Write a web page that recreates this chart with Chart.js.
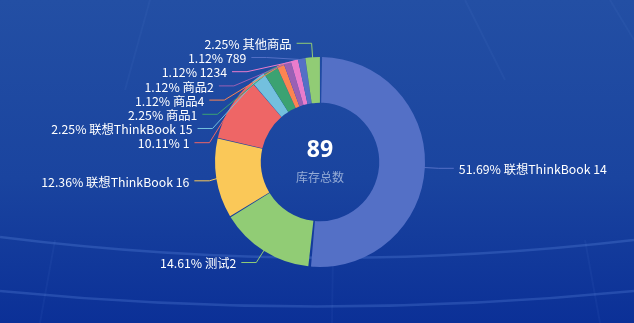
<!DOCTYPE html>
<html>
<head>
<meta charset="utf-8">
<script src="https://cdn.jsdelivr.net/npm/chart.js@4.4.1/dist/chart.umd.min.js"></script>
<style>
    html, body { margin: 0; padding: 0; background: #1a459f; }
    #wrap { position: relative; width: 634px; height: 323px; }
</style>
</head>
<body>
<div id="wrap"><canvas id="stockPie"></canvas></div>
<script>
// Stock per product, clockwise from 12 o'clock
const categories = ['联想ThinkBook 14', '测试2', '联想ThinkBook 16', '1', '联想ThinkBook 15', '商品1', '商品4', '商品2', '1234', '789', '其他商品'];
const stockCounts = [46, 13, 11, 9, 2, 2, 1, 1, 1, 1, 2];
const sliceColors = ['#5470c6', '#91cc75', '#fac858', '#ee6666', '#73c0de', '#3ba272', '#fc8452', '#9a60b4', '#ea7ccc', '#5470c6', '#91cc75'];
const centerCaption = '库存总数';

const LABEL_FONT = '12.3px "Noto Sans CJK SC", "Noto Sans", sans-serif';
const LEN1 = 15;      // first part of the label line
const LEN2 = 15;      // horizontal part
const TEXT_GAP = 5;
const LINE_H = 14.2;
const BEND_RX = 8;    // horizontal reach of re-aligned bends

const total = stockCounts.reduce((a, b) => a + b, 0);

// background: gradient plus the faint "dome" lines
const backdrop = {
    id: 'backdrop',
    beforeDraw(chart) {
        const { ctx, width, height } = chart;
        ctx.save();
        const g = ctx.createLinearGradient(0, 0, 0, height);
        g.addColorStop(0, '#234fa4');
        g.addColorStop(0.55, '#1a449f');
        g.addColorStop(1, '#0b3097');
        ctx.fillStyle = g;
        ctx.fillRect(0, 0, width, height);

        ctx.strokeStyle = 'rgba(130, 175, 255, 0.2)';
        ctx.lineWidth = 2.5;
        ctx.beginPath();
        ctx.moveTo(0, 237);
        ctx.quadraticCurveTo(width / 2, 277, width, 240);
        ctx.stroke();
        ctx.beginPath();
        ctx.moveTo(0, 291);
        ctx.quadraticCurveTo(width / 2, 322, width, 291);
        ctx.stroke();

        ctx.strokeStyle = 'rgba(130, 175, 255, 0.05)';
        ctx.lineWidth = 2;
        [[150, 0, 125, 90], [465, 0, 505, 80], [40, 323, 55, 240], [332, 323, 333, 250], [600, 323, 585, 240], [610, 0, 634, 40]].forEach(l => {
            ctx.beginPath();
            ctx.moveTo(l[0], l[1]);
            ctx.lineTo(l[2], l[3]);
            ctx.stroke();
        });
        ctx.restore();
    }
};

// Outside labels with leader lines, stacked like echarts does on the left
const outerLabels = {
    id: 'outerLabels',
    afterDatasetsDraw(chart) {
        const { ctx } = chart;
        const arcs = chart.getDatasetMeta(0).data;
        const items = arcs.map((arc, i) => {
            const p = arc.getProps(['x', 'y', 'startAngle', 'endAngle', 'outerRadius', 'innerRadius'], true);
            const mid = (p.startAngle + p.endAngle) / 2;
            const cos = Math.cos(mid), sin = Math.sin(mid);
            const r = p.outerRadius;
            return {
                i, cx: p.x, cy: p.y, r, cos,
                ex: p.x + r * cos, ey: p.y + r * sin,
                bx: p.x + (r + LEN1) * cos, by: p.y + (r + LEN1) * sin,
                dir: cos >= 0 ? 1 : -1
            };
        });

        [1, -1].forEach(dir => {
            const side = items.filter(it => it.dir === dir).sort((a, b) => a.by - b.by);
            if (side.length < 2) return;
            let adjusted = false;
            for (let k = 1; k < side.length; k++) {
                const minY = side[k - 1].by + LINE_H;
                if (side[k].by < minY) { side[k].by = minY; adjusted = true; }
            }
            if (!adjusted) return;
            const semis = [side.filter(it => it.by <= it.cy), side.filter(it => it.by > it.cy)];
            semis.forEach(semi => {
                if (!semi.length) return;
                let rB = 0, maxDy = -1;
                semi.forEach(it => {
                    const dy = Math.abs(it.by - it.cy);
                    if (dy >= maxDy) {
                        const rA = it.r + BEND_RX;
                        const dx = Math.abs(it.bx - it.cx);
                        rB = dx < rA ? dy / Math.sqrt(1 - dx * dx / (rA * rA)) : rA;
                        maxDy = dy;
                    }
                });
                semi.forEach(it => {
                    const rA = it.r + BEND_RX;
                    const dy = it.by - it.cy;
                    const dx = rA * Math.sqrt(Math.max(0, 1 - dy * dy / (rB * rB)));
                    it.bx = it.cx + dir * dx;
                });
            });
        });

        ctx.save();
        ctx.font = LABEL_FONT;
        ctx.textBaseline = 'middle';
        items.forEach(it => {
            const endX = it.bx + it.dir * LEN2;
            ctx.strokeStyle = sliceColors[it.i];
            ctx.lineWidth = 1;
            ctx.beginPath();
            ctx.moveTo(it.ex, it.ey);
            ctx.lineTo(it.bx, it.by);
            ctx.lineTo(endX, it.by);
            ctx.stroke();

            const pct = (stockCounts[it.i] / total * 100).toFixed(2) + '%';
            ctx.fillStyle = '#ffffff';
            ctx.textAlign = it.dir > 0 ? 'left' : 'right';
            ctx.fillText(pct + ' ' + categories[it.i], endX + it.dir * TEXT_GAP, it.by + 1);
        });

        // total in the hole
        const c = items[0];
        ctx.textAlign = 'center';
        ctx.fillStyle = '#ffffff';
        ctx.font = 'bold 23px "Noto Sans", "Noto Sans CJK SC", sans-serif';
        ctx.fillText(String(total), c.cx, c.cy - 12);
        ctx.fillStyle = 'rgba(190, 205, 232, 0.75)';
        ctx.font = '12px "Noto Sans CJK SC", sans-serif';
        ctx.fillText(centerCaption, c.cx, c.cy + 15);
        ctx.restore();
    }
};

new Chart(document.getElementById('stockPie'), {
    type: 'doughnut',
    data: {
        labels: categories,
        datasets: [{
            data: stockCounts,
            backgroundColor: sliceColors,
            borderWidth: 0,
            spacing: 2,
            hoverOffset: 0
        }]
    },
    options: {
        responsive: true,
        maintainAspectRatio: false,
        animation: false,
        cutout: '56%',
        layout: {
            padding: { left: 215, right: 209, top: 57, bottom: 56 }
        },
        plugins: {
            legend: { display: false },
            tooltip: { enabled: false }
        }
    },
    plugins: [backdrop, outerLabels]
});
</script>
</body>
</html>
